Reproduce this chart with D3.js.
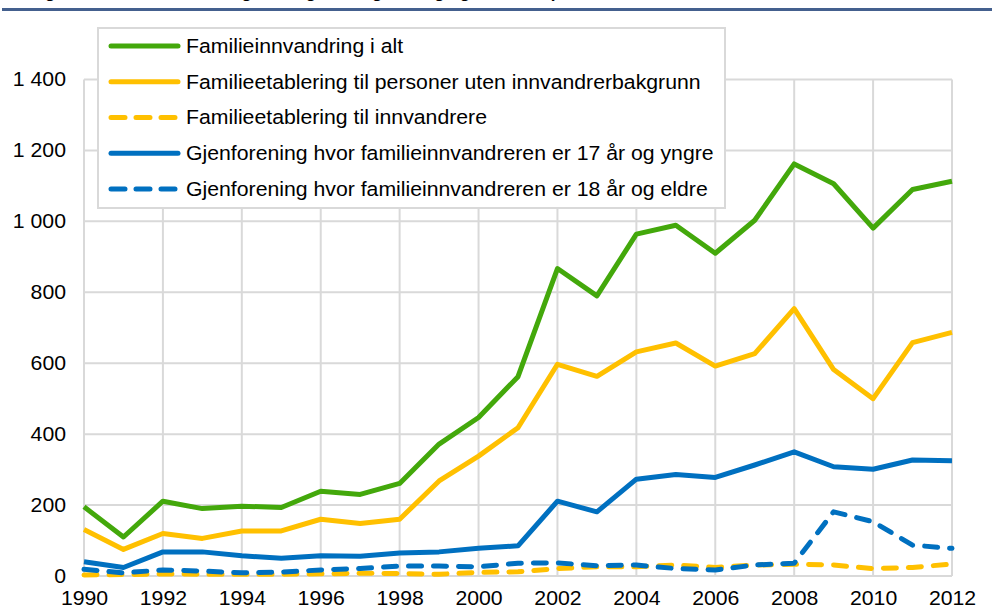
<!DOCTYPE html>
<html>
<head>
<meta charset="utf-8">
<script src="https://cdn.jsdelivr.net/npm/d3@7"></script>
<style>
  html, body { margin: 0; padding: 0; background: #fff; }
  svg { display: block; font-family: "Liberation Sans", Arial, sans-serif; }
</style>
</head>
<body>
<svg id="chart" width="992" height="613"></svg>
<script>
// år og serier (lest av figuren)
const years = d3.range(1990, 2013);
const totalt = [195, 110, 211, 190, 197, 193, 239, 230, 261, 372, 447, 562, 867, 790, 964, 989, 910, 1003, 1162, 1106, 981, 1090, 1113];
const utenBakgrunn = [131, 75, 120, 106, 127, 127, 160, 148, 160, 268, 338, 418, 597, 563, 632, 657, 592, 627, 754, 582, 500, 658, 687];
const tilInnvandrere = [3, 4, 6, 5, 5, 5, 6, 8, 7, 5, 10, 12, 21, 26, 26, 31, 24, 31, 33, 31, 21, 24, 34];
const gjenf17 = [40, 24, 68, 68, 57, 50, 57, 56, 65, 68, 78, 85, 211, 181, 273, 286, 278, 313, 350, 308, 301, 327, 325];
const gjenf18 = [19, 9, 17, 14, 9, 11, 17, 21, 28, 28, 26, 36, 37, 29, 31, 21, 17, 31, 36, 181, 153, 87, 78];

const seriesNames = [
  "Familieinnvandring i alt",
  "Familieetablering til personer uten innvandrerbakgrunn",
  "Familieetablering til innvandrere",
  "Gjenforening hvor familieinnvandreren er 17 år og yngre",
  "Gjenforening hvor familieinnvandreren er 18 år og eldre"
];
const seriesValues = [totalt, utenBakgrunn, tilInnvandrere, gjenf17, gjenf18];
const seriesColors = ["#43a80b", "#ffc000", "#ffc000", "#0070c0", "#0070c0"];
const seriesDashed = [false, false, true, false, true];

const yTicks = [0, 200, 400, 600, 800, 1000, 1200, 1400];
const xTicks = d3.range(1990, 2013, 2);

const svg = d3.select("#chart");
const gridColor = "#d9d9d9";
const sx = 1.09; // teksten i originalen er litt strukket i bredden

// topplinje med avkuttet tittel (bare nedre del synes)
svg.append("text")
  .attr("x", 30).attr("y", -2)
  .style("font-size", "17px").style("font-weight", "bold")
  .text("Figur 4. Familieinnvandring til Norge etter grunnlag og år. Antall personer");
svg.append("rect")
  .attr("x", 2).attr("y", 8).attr("width", 990).attr("height", 3)
  .attr("fill", "#44608e");

const x = d3.scaleLinear().domain([1990, 2012]).range([84, 952]);
const y = d3.scaleLinear().domain([0, 1400]).range([576, 79.5]);

// rutenett
svg.append("g").selectAll("line")
  .data(yTicks).enter().append("line")
  .attr("x1", x(1990)).attr("x2", x(2012))
  .attr("y1", d => y(d)).attr("y2", d => y(d))
  .attr("stroke", gridColor).attr("stroke-width", 2);
svg.append("g").selectAll("line")
  .data(xTicks).enter().append("line")
  .attr("x1", d => x(d)).attr("x2", d => x(d))
  .attr("y1", y(0)).attr("y2", y(1400))
  .attr("stroke", gridColor).attr("stroke-width", 2);

// aksetekster
const fmt = v => d3.format(",")(v).replace(/,/g, " ");
const yAxis = d3.axisLeft(y).tickValues(yTicks).tickFormat(fmt).tickSize(0).tickPadding(0);
const ya = svg.append("g").attr("transform", "translate(66,0)").call(yAxis);
ya.select(".domain").remove();
ya.selectAll("text").style("font-size", "19.5px").attr("fill", "#000").attr("font-family", null)
  .attr("transform", `scale(${sx},1)`);

const xAxis = d3.axisBottom(x).tickValues(xTicks).tickFormat(d3.format("d")).tickSize(0).tickPadding(0);
const xa = svg.append("g").attr("transform", "translate(0,591)").call(xAxis);
xa.select(".domain").remove();
xa.selectAll("text").style("font-size", "19.5px").attr("fill", "#000").attr("font-family", null)
  .attr("dy", "0.71em").attr("transform", `scale(${sx},1)`);

// linjer
const line = d3.line().x((d, i) => x(years[i])).y(d => y(d));
seriesValues.forEach((vals, i) => {
  svg.append("path")
    .datum(vals)
    .attr("d", line)
    .attr("fill", "none")
    .attr("stroke", seriesColors[i])
    .attr("stroke-width", 5)
    .attr("stroke-linejoin", "round")
    .attr("stroke-linecap", seriesDashed[i] ? "round" : "butt")
    .attr("stroke-dasharray", seriesDashed[i] ? "13,12" : null);
});

// tegnforklaring
const leg = svg.append("g");
leg.append("rect")
  .attr("x", 98).attr("y", 28).attr("width", 627).attr("height", 180)
  .attr("fill", "#fff").attr("stroke", gridColor).attr("stroke-width", 2);
const legY = d3.scalePoint().domain(seriesNames).range([46, 189]);
seriesNames.forEach((name, i) => {
  const yy = legY(name);
  leg.append("line")
    .attr("x1", 111).attr("x2", seriesDashed[i] ? 175 : 178)
    .attr("y1", yy).attr("y2", yy)
    .attr("stroke", seriesColors[i]).attr("stroke-width", 5)
    .attr("stroke-linecap", "round")
    .attr("stroke-dasharray", seriesDashed[i] ? "14,11" : null);
  leg.append("text")
    .attr("transform", `translate(186,${yy}) scale(${sx},1)`)
    .attr("dy", "0.35em")
    .style("font-size", "19.5px")
    .text(name);
});
</script>
</body>
</html>
